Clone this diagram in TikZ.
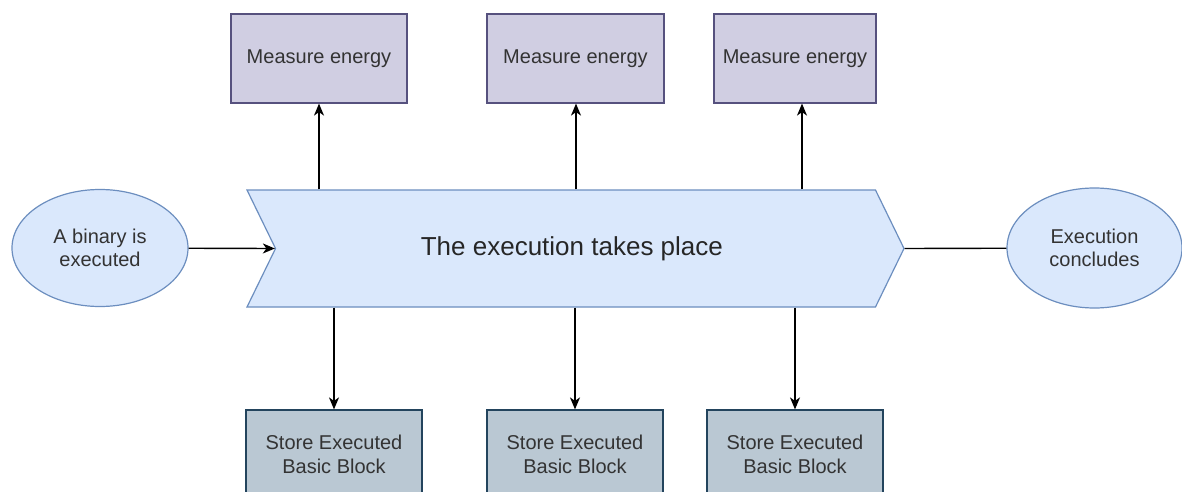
\documentclass[tikz,border=0pt]{standalone}
\usepackage{fontspec}
\setmainfont{Liberation Sans}
\usetikzlibrary{arrows.meta,shapes.geometric,shapes.symbols}
\definecolor{termfill}{HTML}{DAE8FC}
\definecolor{termline}{HTML}{6C8EBF}
\definecolor{measfill}{HTML}{D0CEE2}
\definecolor{measline}{HTML}{56517E}
\definecolor{storefill}{HTML}{BAC8D3}
\definecolor{storeline}{HTML}{23445D}
\definecolor{textgray}{HTML}{333333}

\newcommand{\measure}[3]{ \node[measbox, minimum width=#3] (#1) at (#2) {Measure energy}; }
\newcommand{\store}[2]{ \node[storebox] (#1) at (#2) {Store Executed \\ Basic Block}; }

\begin{document}
\begin{tikzpicture}[x=1pt,y=-1pt,font=\fontsize{20}{23.4}\selectfont,every node/.style = {align=center, inner sep=0pt, text=textgray, line width=1.2pt}]
		\tikzset{
			terminal/.style = { ellipse, draw=termline, fill=termfill },
			measbox/.style = { rectangle, draw=measline, fill=measfill, minimum height=89 },
			storebox/.style = { rectangle, draw=storeline, fill=storefill, minimum width=176, minimum height=89 },
			flow/.style = { line width=1.4pt, -{Stealth[length=12pt,width=10pt,inset=3.5pt]} },
			link/.style = { line width=1.4pt },
		}
		\path[use as bounding box, fill=white] (0,0) rectangle (1182,492);
		\node[terminal, minimum width=176, minimum height=117] (bin) at (100,248) { A binary is \\ executed };
		\node[terminal, minimum width=175, minimum height=120] (done) at (1094.5,248) { Execution \\ concludes };
		\node[signal, signal to=east, signal from=west, signal pointer angle=128, draw=termline, fill=termfill,
			minimum width=657, minimum height=117, text=black!85, font=\fontsize{26}{30}\selectfont] (run) at (575.5,248.5) { The execution takes place };
		\measure{m1}{319,58.5}{176}
		\measure{m2}{575.5,58.5}{177}
		\measure{m3}{795,58.5}{162}
		\store{s1}{334,454.5}
		\store{s2}{575,454.5}
		\store{s3}{795,454.5}
		\draw[flow] (bin) -- (run.west);
		\draw[link] (run.east) -- (done);
		\draw[flow] (m1.south |- run.north) -- (m1.south);
		\draw[flow] ([xshift=0.5pt]m2.south |- run.north) -- ([xshift=0.5pt]m2.south);
		\draw[flow] ([xshift=7pt]m3.south |- run.north) -- ([xshift=7pt]m3.south);
		\draw[flow] (s1.north |- run.south) -- (s1.north);
		\draw[flow] (s2.north |- run.south) -- (s2.north);
		\draw[flow] (s3.north |- run.south) -- (s3.north);
\end{tikzpicture}
\end{document}
